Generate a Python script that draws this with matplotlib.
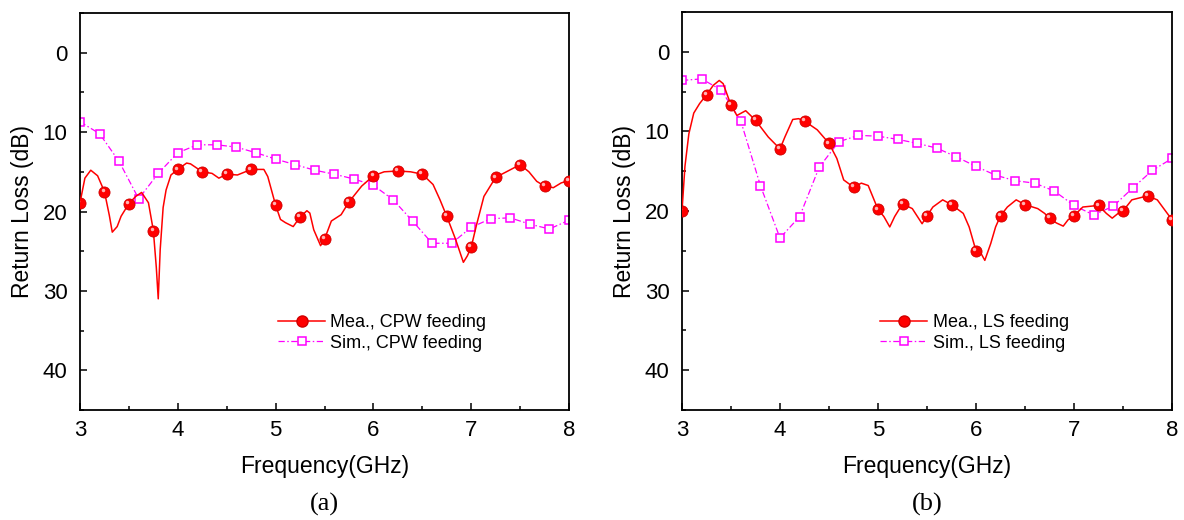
import matplotlib
matplotlib.use('Agg')
import matplotlib.pyplot as plt
import matplotlib.transforms as mtransforms
from matplotlib.lines import Line2D
import numpy as np

plt.rcParams['font.family'] = ['Liberation Sans', 'DejaVu Sans']

# (a) CPW feeding
freq_a_mea = [3.0, 3.05, 3.11, 3.18, 3.25, 3.3, 3.33, 3.38, 3.42, 3.5, 3.57, 3.63,
              3.70, 3.75, 3.78, 3.8, 3.82, 3.85, 3.88, 3.93, 4.0, 4.09, 4.13, 4.25,
              4.35, 4.42, 4.5, 4.61, 4.75, 4.88, 4.92, 5.0, 5.05, 5.1, 5.18, 5.25,
              5.32, 5.35, 5.39, 5.46, 5.5, 5.57, 5.67, 5.75, 5.88, 6.0, 6.11, 6.25,
              6.38, 6.5, 6.61, 6.68, 6.75, 6.84, 6.92, 6.96, 7.0, 7.05, 7.13, 7.25,
              7.36, 7.5, 7.59, 7.67, 7.75, 7.84, 7.92, 8.0]
rl_a_mea = [18.9, 15.8, 14.8, 15.5, 17.5, 20.5, 22.6, 21.9, 20.6, 19.0, 18.1, 17.6,
            18.9, 22.4, 27.0, 31.0, 24.8, 19.5, 17.3, 15.4, 14.7, 13.9, 14.0, 15.0,
            15.2, 15.8, 15.3, 15.4, 14.7, 14.7, 15.6, 19.2, 21.0, 21.4, 21.9, 20.7,
            19.9, 20.2, 22.3, 24.3, 23.5, 21.2, 20.4, 18.8, 16.8, 15.5, 15.0, 14.9,
            15.0, 15.3, 16.6, 18.5, 20.6, 23.5, 26.4, 25.6, 24.5, 21.9, 18.1, 15.7,
            15.0, 14.1, 15.0, 16.2, 16.8, 17.0, 16.4, 16.1]
freq_sim = [3.0, 3.2, 3.4, 3.6, 3.8, 4.0, 4.2, 4.4, 4.6, 4.8, 5.0, 5.2, 5.4,
            5.6, 5.8, 6.0, 6.2, 6.4, 6.6, 6.8, 7.0, 7.2, 7.4, 7.6, 7.8, 8.0]
rl_a_sim = [8.7, 10.2, 13.7, 18.4, 15.2, 12.6, 11.6, 11.6, 11.9, 12.6, 13.4, 14.1, 14.8,
            15.3, 15.9, 16.7, 18.5, 21.2, 24.0, 24.0, 22.0, 20.9, 20.8, 21.6, 22.2, 21.1]

# (b) LS feeding
freq_b_mea = [3.0, 3.03, 3.07, 3.12, 3.18, 3.25, 3.32, 3.38, 3.42, 3.5, 3.56, 3.65,
              3.75, 3.88, 4.0, 4.05, 4.13, 4.19, 4.25, 4.38, 4.5, 4.58, 4.65, 4.75,
              4.83, 4.90, 4.94, 5.0, 5.06, 5.12, 5.17, 5.25, 5.35, 5.45, 5.5, 5.56,
              5.66, 5.75, 5.87, 5.93, 6.0, 6.05, 6.09, 6.15, 6.2, 6.25, 6.32, 6.41,
              6.5, 6.63, 6.70, 6.75, 6.82, 6.89, 6.94, 7.0, 7.09, 7.25, 7.33, 7.39,
              7.45, 7.5, 7.59, 7.75, 7.85, 7.94, 8.0]
rl_b_mea = [20.0, 14.4, 10.3, 7.7, 6.5, 5.4, 4.2, 3.6, 4.0, 6.7, 8.0, 7.4,
            8.6, 10.7, 12.2, 10.7, 8.5, 8.4, 8.7, 9.8, 11.5, 13.4, 16.1, 17.0,
            16.5, 16.8, 18.0, 19.8, 20.7, 22.0, 20.7, 19.1, 19.7, 21.6, 20.6, 19.5,
            18.6, 19.2, 20.3, 22.0, 25.0, 25.3, 26.2, 24.1, 22.0, 20.6, 19.5, 18.6,
            19.2, 19.7, 20.3, 20.9, 21.5, 21.9, 21.1, 20.6, 19.5, 19.3, 20.3, 20.9,
            20.3, 20.0, 18.6, 18.1, 18.6, 20.1, 21.1]
rl_b_sim = [3.6, 3.4, 4.8, 8.7, 16.8, 23.4, 20.7, 14.5, 11.3, 10.5, 10.6, 11.0, 11.5,
            12.1, 13.2, 14.4, 15.5, 16.2, 16.5, 17.5, 19.3, 20.5, 19.4, 17.1, 14.9, 13.4]

RED = '#ff0000'
MAG = '#ff00ff'


def draw_panel(ax, f_mea, v_mea, f_sim, v_sim, tag, caption):
    f_mea = np.array(f_mea)
    v_mea = np.array(v_mea)
    # measured markers sit every 0.25 GHz
    mk = np.isclose(f_mea * 4, np.round(f_mea * 4))

    ax.plot(f_mea, v_mea, color=RED, lw=1.1, zorder=3)
    ax.plot(f_mea[mk], v_mea[mk], ls='none', marker='o', ms=8,
            mfc=RED, mec='#d00000', mew=0.6, zorder=4)
    # little highlight to mimic the shaded ball
    shine = ax.transData + mtransforms.ScaledTranslation(-1.3 / 72, 1.3 / 72,
                                                         ax.figure.dpi_scale_trans)
    ax.plot(f_mea[mk], v_mea[mk], ls='none', marker='o', ms=2.5,
            mfc='#ffc8c8', mec='none', alpha=0.9, transform=shine, zorder=5)

    ax.plot(f_sim, v_sim, color=MAG, lw=0.9, dashes=(5, 2, 1.2, 2),
            marker='s', ms=6, mfc='white', mec=MAG, mew=1.1, zorder=2)

    ax.set_xlim(3, 8)
    ax.set_ylim(45, -5)
    ax.set_xticks([3, 4, 5, 6, 7, 8])
    ax.set_xticks(np.arange(3.5, 8, 1.0), minor=True)
    ax.set_yticks([0, 10, 20, 30, 40])
    ax.set_yticks([-5, 5, 15, 25, 35, 45], minor=True)
    ax.tick_params(which='both', direction='in', top=False, right=False,
                   labelsize=16, width=1.1)
    ax.tick_params(which='major', length=5)
    ax.tick_params(axis='y', which='major', pad=9)
    ax.tick_params(axis='x', which='major', pad=7)
    ax.tick_params(which='minor', length=3)
    for sp in ax.spines.values():
        sp.set_linewidth(1.3)

    ax.set_xlabel('Frequency(GHz)', fontsize=16.5, labelpad=10)
    ax.set_ylabel('Return Loss (dB)', fontsize=16.5, labelpad=6)

    handles = [
        Line2D([], [], color=RED, lw=1.1, marker='o', ms=8, mfc=RED, mec='#d00000'),
        Line2D([], [], color=MAG, lw=0.9, dashes=(5, 2, 1.2, 2), marker='s', ms=6,
               mfc='white', mec=MAG, mew=1.1),
    ]
    ax.legend(handles, [f'Mea., {tag} feeding', f'Sim., {tag} feeding'],
              loc='center left', bbox_to_anchor=(0.405, 0.194), frameon=False,
              fontsize=13, handlelength=2.6, handletextpad=0.3, labelspacing=0.2,
              borderpad=0, borderaxespad=0)

    ax.text(0.5, 0.03, caption, transform=mtransforms.blended_transform_factory(
        ax.transAxes, ax.figure.transFigure), ha='center', va='center',
        fontsize=19, family=['Liberation Serif', 'DejaVu Serif'])


fig = plt.figure(figsize=(11.84, 5.2), dpi=100)
ax_a = fig.add_axes([80 / 1184, 1 - 410 / 520, 489 / 1184, 397 / 520])
ax_b = fig.add_axes([682 / 1184, 1 - 410 / 520, 490 / 1184, 398 / 520])

draw_panel(ax_a, freq_a_mea, rl_a_mea, freq_sim, rl_a_sim, 'CPW', '(a)')
draw_panel(ax_b, freq_b_mea, rl_b_mea, freq_sim, rl_b_sim, 'LS', '(b)')

fig.savefig('out.png', dpi=100)
